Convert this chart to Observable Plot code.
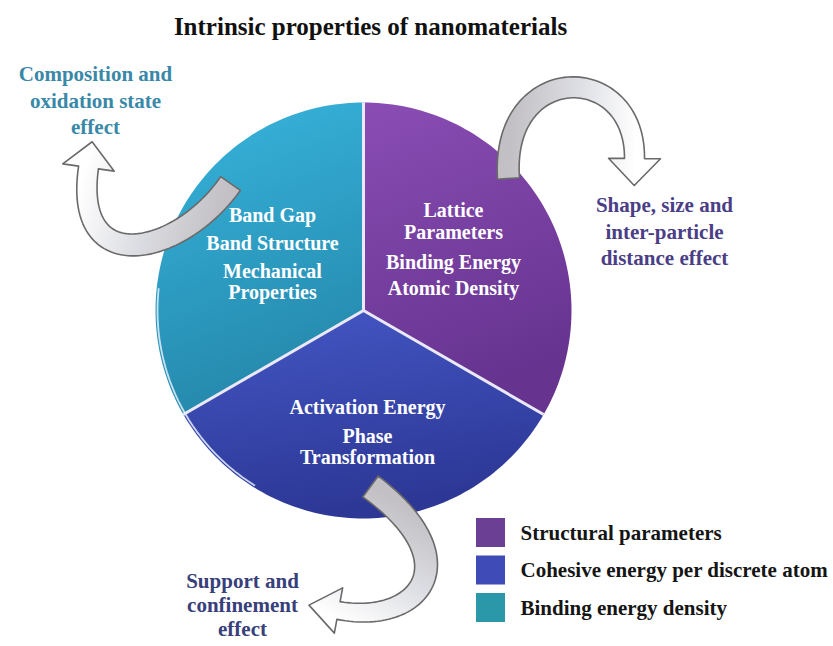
<!DOCTYPE html>
<html><head><meta charset="utf-8">
<script src="https://cdn.jsdelivr.net/npm/d3@7"></script>
<script src="https://cdn.jsdelivr.net/npm/@observablehq/plot@0.6"></script>
<style>
html,body{margin:0;padding:0;background:#fff;}
#chart svg{display:block;}
</style></head><body><div id="chart"></div>
<script>
// ---------- data ----------
const titleText = "Intrinsic properties of nanomaterials";
const categories = ["Structural parameters", "Cohesive energy per discrete atom", "Binding energy density"];
const shares = [1, 1, 1];
const sliceLabels = [
  ["Lattice", "Parameters", "Binding Energy", "Atomic Density"],
  ["Activation Energy", "Phase", "Transformation"],
  ["Band Gap", "Band Structure", "Mechanical", "Properties"]
];
const effectLabels = [
  ["Shape, size and", "inter-particle", "distance effect"],
  ["Support and", "confinement", "effect"],
  ["Composition and", "oxidation state", "effect"]
];

// ---------- layout & style ----------
const W = 833, H = 646;
const pieGeo = {cx: 363, cy: 310, r: 208};
const sliceGrad = [["#8a4db4", "#66338f"], ["#4457c5", "#2d3896"], ["#38b5de", "#2589ac"]];
const legendColors = ["#6b3f93", "#3f4bb6", "#2a98a9"];
const serif = "'Liberation Serif', 'Times New Roman', serif";
const sliceLabelPos = [
  {x: 453, y: [210, 232, 262, 288]},
  {x: 367, y: [407, 436, 457]},
  {x: 272, y: [215, 243, 271, 292]}
];
const effectPos = [
  {x: 664, y: [205, 232, 258], color: "#4a3e86"},
  {x: 242, y: [581, 605, 629], color: "#37407a"},
  {x: 95, y: [74, 101, 127], color: "#3a88a8"}
];
const arrowGeo = [
  {p: [[508, 178], [500, 60], [635, 60], [634, 158]], w0: 22, w1: 20, head: 52, headLen: 27},
  {p: [[370, 486], [470, 560], [420, 625], [338, 610]], w0: 26, w1: 18, head: 46, headLen: 30},
  {p: [[230, 183], [180, 255], [72, 280], [88, 167]], w0: 24, w1: 20, head: 52, headLen: 26}
];
const legendGeo = {x: 476, y: 518, size: 29, step: 37.5, textX: 520};
const titlePos = {x: 370, y: 26};

// ---------- geometry from data ----------
const arcs = d3.pie().sort(null)(shares);
const polar = (a, r) => [pieGeo.cx + r * Math.sin(a), pieGeo.cy - r * Math.cos(a)];
const slicePts = [];
arcs.forEach((a, i) => {
  const c = [pieGeo.cx, pieGeo.cy];
  slicePts.push({cat: categories[i], x: c[0], y: c[1]});
  const n = 90;
  for (let k = 0; k <= n; k++) {
    const t = a.startAngle + (a.endAngle - a.startAngle) * k / n;
    const [x, y] = polar(t, pieGeo.r);
    slicePts.push({cat: categories[i], x, y});
  }
  slicePts.push({cat: categories[i], x: c[0], y: c[1]});
});
const dividers = arcs.map(a => {
  const [x, y] = polar(a.startAngle, pieGeo.r);
  return {x1: pieGeo.cx, y1: pieGeo.cy, x2: x, y2: y};
});
const rim = d3.range(212, 277, 2).map(d => {
  const [x, y] = polar(d * Math.PI / 180, pieGeo.r - 2);
  return {x, y};
});

const sliceText = [];
sliceLabels.forEach((lines, i) => lines.forEach((t, j) => sliceText.push({t, x: sliceLabelPos[i].x, y: sliceLabelPos[i].y[j]})));
const effectText = [];
effectLabels.forEach((lines, i) => lines.forEach((t, j) => effectText.push({t, x: effectPos[i].x, y: effectPos[i].y[j], c: effectPos[i].color})));

function bez(p, t) {
  const u = 1 - t, a = u*u*u, b = 3*u*u*t, c = 3*u*t*t, d = t*t*t;
  return [a*p[0][0]+b*p[1][0]+c*p[2][0]+d*p[3][0], a*p[0][1]+b*p[1][1]+c*p[2][1]+d*p[3][1]];
}
function bezD(p, t) {
  const u = 1 - t;
  return [0, 1].map(k => 3*u*u*(p[1][k]-p[0][k]) + 6*u*t*(p[2][k]-p[1][k]) + 3*t*t*(p[3][k]-p[2][k]));
}
function arrowPolygon(g) {
  const n = 60, left = [], right = [];
  for (let i = 0; i <= n; i++) {
    const t = i / n, c = bez(g.p, t), d = bezD(g.p, t), L = Math.hypot(d[0], d[1]);
    const nx = -d[1] / L, ny = d[0] / L, w = (g.w0 + (g.w1 - g.w0) * t) / 2;
    left.push([c[0] + nx * w, c[1] + ny * w]);
    right.push([c[0] - nx * w, c[1] - ny * w]);
  }
  const e = g.p[3], d = bezD(g.p, 1), L = Math.hypot(d[0], d[1]);
  const dir = [d[0] / L, d[1] / L], nrm = [-dir[1], dir[0]];
  const tip = [e[0] + dir[0] * g.headLen, e[1] + dir[1] * g.headLen];
  const b1 = [e[0] + nrm[0] * g.head / 2, e[1] + nrm[1] * g.head / 2];
  const b2 = [e[0] - nrm[0] * g.head / 2, e[1] - nrm[1] * g.head / 2];
  const pts = [...left, b1, tip, b2, ...right.reverse(), left[0]];
  return {pts: pts.map(([x, y]) => ({x, y})), tail: g.p[0], tip};
}
const arrows = arrowGeo.map(arrowPolygon);

const legendRows = categories.map((c, i) => ({
  cat: c,
  y1: legendGeo.y + i * legendGeo.step,
  y2: legendGeo.y + i * legendGeo.step + legendGeo.size,
  yc: legendGeo.y + i * legendGeo.step + legendGeo.size / 2
}));

const plot = Plot.plot({
  width: W, height: H, margin: 0,
  x: {domain: [0, W], range: [0, W], axis: null},
  y: {domain: [0, H], range: [0, H], axis: null},
  color: {type: "ordinal", domain: categories, range: categories.map((c, i) => `url(#slice${i})`)},
  marks: [
    Plot.line(slicePts, {x: "x", y: "y", z: "cat", fill: "cat", stroke: "none", curve: "linear"}),
    Plot.link(dividers, {x1: "x1", y1: "y1", x2: "x2", y2: "y2", stroke: "#ebe8f7", strokeWidth: 3}),
    Plot.line(rim, {x: "x", y: "y", stroke: "#e3eefb", strokeWidth: 1.8, strokeOpacity: 0.85}),
    Plot.text(sliceText, {x: "x", y: "y", text: "t", fill: "white", fontSize: 20, fontWeight: "bold", fontFamily: serif, textAnchor: "middle", lineAnchor: "middle"}),
    ...arrows.map((a, i) => Plot.line(a.pts, {x: "x", y: "y", fill: `url(#arrow${i})`, stroke: "#6a6a6a", strokeWidth: 1.6, curve: "linear"})),
    Plot.text(effectText, {x: "x", y: "y", text: "t", fill: "c", fontSize: 21, fontWeight: "bold", fontFamily: serif, textAnchor: "middle", lineAnchor: "middle"}),
    Plot.rect(legendRows, {x1: legendGeo.x, x2: legendGeo.x + legendGeo.size, y1: "y1", y2: "y2", fill: (d, i) => legendColors[i]}),
    Plot.text(legendRows, {x: legendGeo.textX, y: "yc", text: "cat", fill: "#151515", fontSize: 21, fontWeight: "bold", fontFamily: serif, textAnchor: "start", lineAnchor: "middle"}),
    Plot.text([titleText], {x: titlePos.x, y: titlePos.y, text: d => d, fill: "#111", fontSize: 25, fontWeight: "bold", fontFamily: serif, textAnchor: "middle", lineAnchor: "middle"})
  ]
});

// gradients
const svg = d3.select(plot);
const defs = svg.insert("defs", ":first-child");
sliceGrad.forEach(([a, b], i) => {
  const g = defs.append("linearGradient").attr("id", `slice${i}`).attr("x1", 0).attr("y1", 0).attr("x2", 0.25).attr("y2", 1);
  g.append("stop").attr("offset", "0%").attr("stop-color", a);
  g.append("stop").attr("offset", "100%").attr("stop-color", b);
});
const sx = plot.scale("x"), sy = plot.scale("y");
arrows.forEach((a, i) => {
  const g = defs.append("linearGradient").attr("id", `arrow${i}`).attr("gradientUnits", "userSpaceOnUse")
    .attr("x1", sx.apply(a.tail[0])).attr("y1", sy.apply(a.tail[1]))
    .attr("x2", sx.apply(a.tip[0])).attr("y2", sy.apply(a.tip[1]));
  g.append("stop").attr("offset", "0%").attr("stop-color", "#c2c0c4");
  g.append("stop").attr("offset", "50%").attr("stop-color", "#dcdde2");
  g.append("stop").attr("offset", "100%").attr("stop-color", "#ffffff");
});
document.getElementById("chart").appendChild(plot);
</script></body></html>
